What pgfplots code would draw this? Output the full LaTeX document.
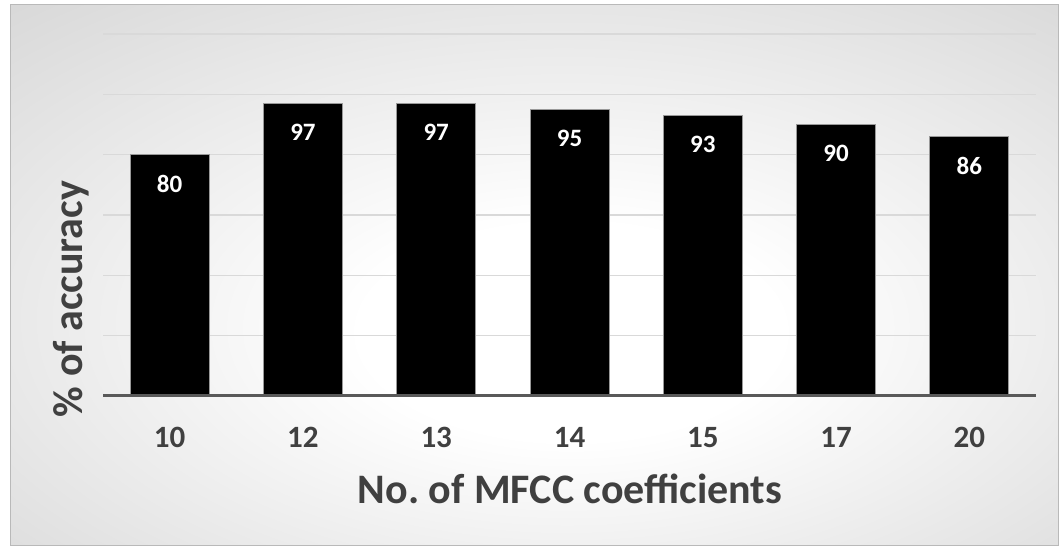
\documentclass[border=0pt]{standalone}
\usepackage{pgfplots}
\pgfplotsset{compat=1.18}
\usepackage{fontspec}
\setmainfont{Carlito}
\definecolor{txt}{HTML}{404040}
\definecolor{gridc}{HTML}{D9D9D9}
\definecolor{axc}{HTML}{595959}
\definecolor{bgedge}{HTML}{BEBEBE}
\pgfdeclareradialshading{bgshade}{\pgfpoint{2bp}{-6bp}}{%
  color(0bp)=(white); color(10bp)=(white); color(58bp)=(bgedge); color(80bp)=(bgedge)}
\begin{document}
\begin{tikzpicture}[x=1pt,y=1pt]
\useasboundingbox (0,0) rectangle (1059,546);
\fill[white] (0,0) rectangle (1059,546);
\shade[shading=bgshade] (10.5,0.5) rectangle (1058.5,541);
\draw[color=gray!55, line width=1pt] (10.5,0.5) rectangle (1058.5,541);
\begin{axis}[
  at={(103pt,150pt)}, anchor=south west,
  scale only axis, width=933pt, height=362pt,
  xmin=-0.5, xmax=6.5, ymin=0, ymax=120,
  ytick={0,20,...,120}, yticklabels={},
  xtick={0,...,6}, xticklabels={10,12,13,14,15,17,20},
  major tick length=0pt,
  ymajorgrids, grid style={color=gridc, line width=1.5pt},
  axis line style={draw=none},
  xticklabel style={font=\fontsize{31}{33}\selectfont\bfseries, color=txt, anchor=base, yshift=-51pt},
  ybar, bar width=79pt,
  nodes near coords={\pgfmathprintnumber[assume math mode=true]{\pgfplotspointmeta}},
  every node near coord/.append style={font=\fontsize{25}{27}\selectfont\bfseries, color=white, anchor=center, yshift=-29pt},
  clip=false,
]
\addplot[fill=black, draw=gray!80, line width=1pt] coordinates {
  (0,80) (1,97) (2,97) (3,95) (4,93) (5,90) (6,86)};
\draw[color=axc, line width=3pt] (axis cs:-0.5,0) -- (axis cs:6.5,0);
\end{axis}
\node[anchor=base, font=\fontsize{42}{46}\selectfont\bfseries, color=txt] at (570,43) {No.\ of MFCC coefficients};
\node[anchor=base, rotate=90, font=\fontsize{42}{46}\selectfont\bfseries, color=txt] at (82,247) {\% of accuracy};
\end{tikzpicture}
\end{document}
